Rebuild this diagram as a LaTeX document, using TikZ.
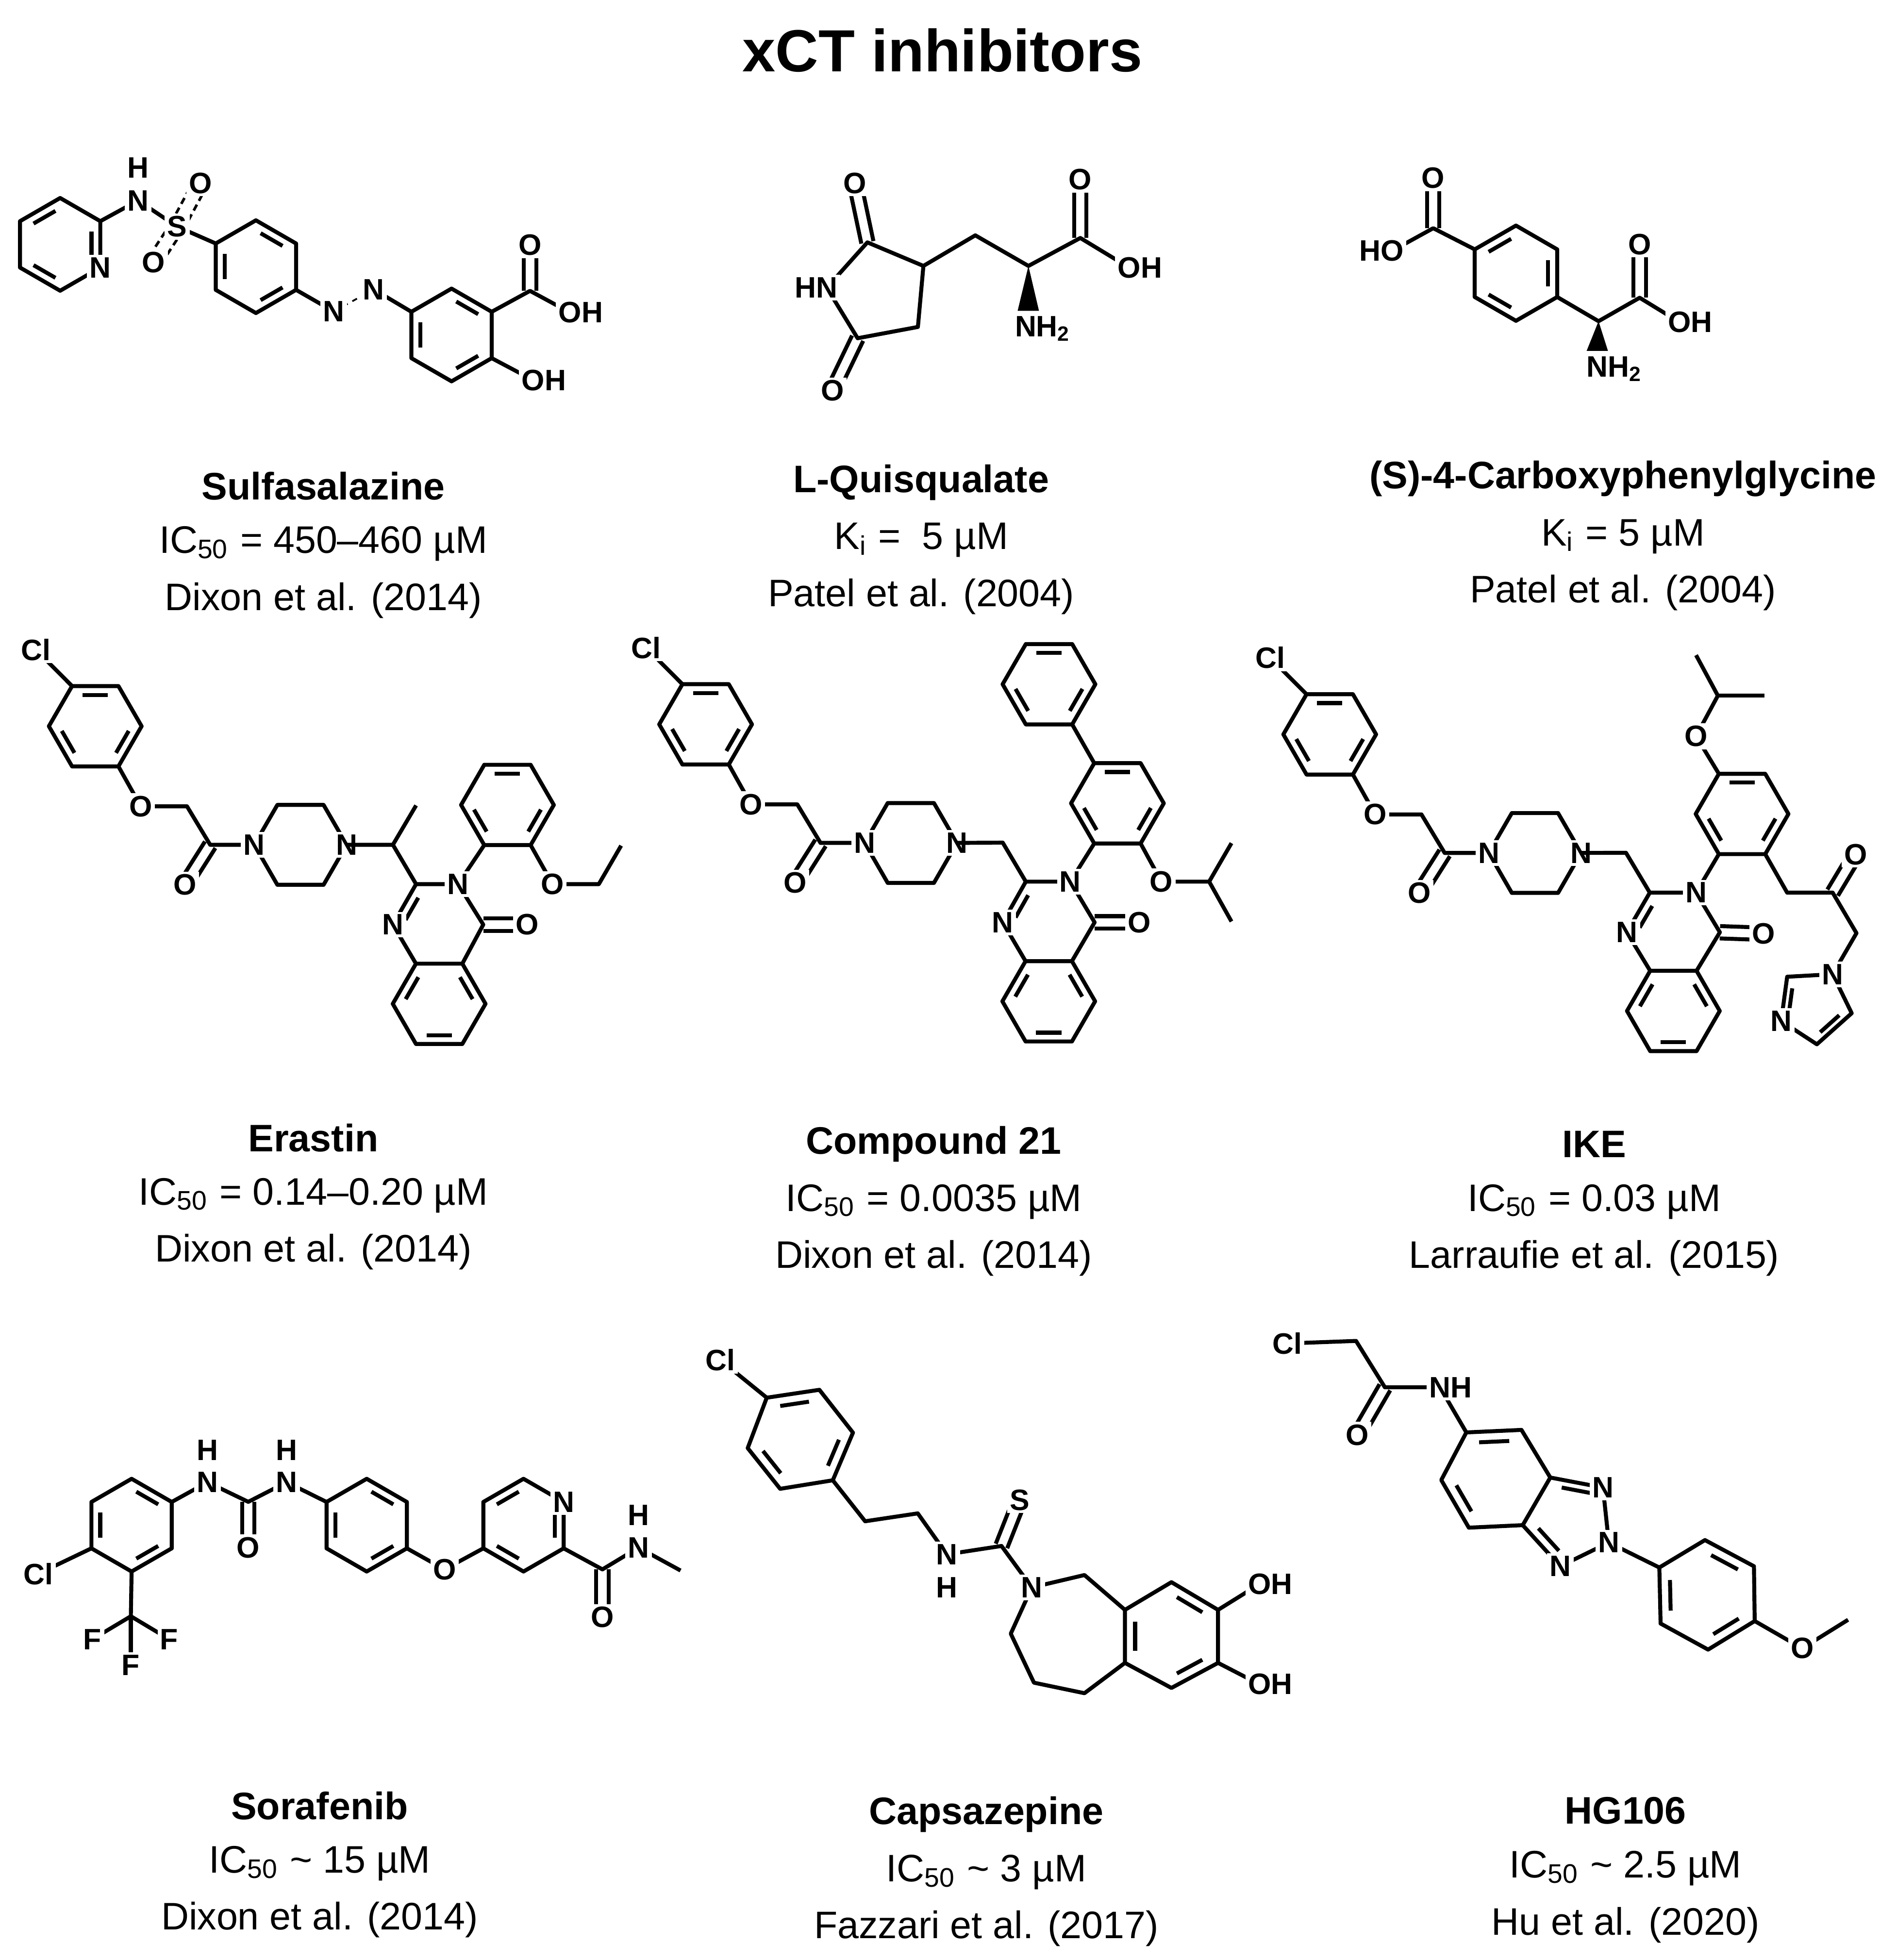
\documentclass[tikz,border=0pt]{standalone}
\usepackage{fontspec}
\setmainfont{Liberation Sans}
\usetikzlibrary{calc}
\newcommand\atomfont{\fontsize{6.7}{7}\selectfont\bfseries}
\newcommand\inb[3]{\draw[bond] ($($(#3)!0.78!(#1)$)!0.15!($(#3)!0.78!(#2)$)$) -- ($($(#3)!0.78!(#1)$)!0.85!($(#3)!0.78!(#2)$)$);}
\newcommand\defring[5]{\coordinate (#1) at (#2,#3);
 \foreach \k in {0,...,5}{\coordinate (#1\k) at ({#2+#5*cos(#4+60*\k)},{#3+#5*sin(#4+60*\k)});}}
\newcommand\ringdraw[2]{\draw[bond] (#10)--(#11)--(#12)--(#13)--(#14)--(#15)--cycle;
 \foreach \k in {0,2,4}{\pgfmathtruncatemacro\ia{mod(\k+#2,6)}\pgfmathtruncatemacro\ib{mod(\k+#2+1,6)}\inb{#1\ia}{#1\ib}{#1}}}
\newcommand\dbond[2]{\draw[bond] ($(#1)!1.4pt!90:(#2)$)--($(#2)!1.4pt!-90:(#1)$); \draw[bond] ($(#1)!1.4pt!-90:(#2)$)--($(#2)!1.4pt!90:(#1)$);}
\newcommand\capt[6]{%
 \node[capf,font=\fontsize{8.7}{10}\selectfont\bfseries] (#6a) at (#1,#2) {#3};
 \node[capf] (#6b) at (#1,#2+46) {#4};
 \node[capf] (#6c) at (#1,#2+91) {#5};}
\newcommand\cppp[1]{%
 \defring{#1r}{76}{579.5}{0}{37}\ringdraw{#1r}{0}
 \coordinate (#1Cl) at (28.5,518.4); \coordinate (#1O) at (112.3,643.4); \coordinate (#1CH2) at (149.2,643.4);
 \coordinate (#1C) at (167.7,674.1); \coordinate (#1Ox) at (147.5,706);
 \coordinate (#1N1) at (202.9,674.1); \coordinate (#1p1) at (221.3,642.3); \coordinate (#1p2) at (258.2,642.3);
 \coordinate (#1N2) at (276.6,674.1); \coordinate (#1p3) at (258.2,706); \coordinate (#1p4) at (221.3,706);
 \draw[bond] (#1r4)--(#1Cl); \draw[bond] (#1r1)--(#1O)--(#1CH2)--(#1C)--(#1N1);
 \draw[bond] (#1N1)--(#1p1)--(#1p2)--(#1N2)--(#1p3)--(#1p4)--cycle;
 \dbond{#1C}{#1Ox}
 \node[atom] at (#1Cl) {Cl}; \node[atom] at (#1O) {O}; \node[atom] at (#1Ox) {O};
 \node[atom] at (#1N1) {N}; \node[atom] at (#1N2) {N};}
\tikzset{bond/.style={line width=0.9pt,line join=round},
 atom/.style={font=\atomfont,fill=white,inner sep=0.6pt},
 capf/.style={font=\fontsize{8.7}{10}\selectfont,inner sep=0pt}}
\begin{document}
\begin{tikzpicture}[x=0.01cm,y=-0.01cm]
\useasboundingbox (0,0) rectangle (1500,1564);
\node[font=\fontsize{13.5}{15}\selectfont\bfseries] (title) at (752,40) {xCT inhibitors};
%% Sulfasalazine
\defring{py}{48}{195}{90}{37}\ringdraw{py}{0}
\coordinate (sN) at (110.2,160); \coordinate (sH) at (110.2,134); \coordinate (sS) at (141.3,180.8);
\coordinate (sO1) at (159.9,146.2); \coordinate (sO2) at (122.6,209.3);
\defring{sa}{204.2}{212.8}{90}{37}\ringdraw{sa}{1}
\coordinate (sN1) at (266.4,248.6); \coordinate (sN2) at (298.1,230.9);
\defring{sb}{360.3}{267.3}{90}{37}\ringdraw{sb}{1}
\coordinate (sC) at (422.9,232.1); \coordinate (sO3) at (422.9,195.5); \coordinate (sO4) at (454.9,249.4); \coordinate (sO5) at (425.4,303.3);
\draw[bond] (py4)--(sN)--(sS)--(sa2);
\draw[line width=0.6pt,dash pattern=on 1.5pt off 1pt] ($(sS)!1.6pt!90:(sO1)$)--($(sO1)!1.6pt!-90:(sS)$) ($(sS)!1.6pt!-90:(sO1)$)--($(sO1)!1.6pt!90:(sS)$);
\draw[line width=0.6pt,dash pattern=on 1.5pt off 1pt] ($(sS)!1.6pt!90:(sO2)$)--($(sO2)!1.6pt!-90:(sS)$) ($(sS)!1.6pt!-90:(sO2)$)--($(sO2)!1.6pt!90:(sS)$);
\draw[bond] (sa5)--(sN1); \draw[line width=0.4pt,dash pattern=on 1.2pt off 1.2pt] (sN1)--(sN2); \draw[bond] (sN2)--(sb2);
\draw[bond] (sb4)--(sC)--(sO4); \dbond{sC}{sO3} \draw[bond] (sb5)--(sO5);
\node[atom] at (py5) {N}; \node[atom] at (sN) {N}; \node[atom] at (sH) {H}; \node[atom] at (sS) {S};
\node[atom] at (sO1) {O}; \node[atom] at (sO2) {O}; \node[atom] at (sN1) {N}; \node[atom] at (sN2) {N};
\node[atom] at (sO3) {O}; \node[atom] at (sO4) {O\rlap{H}}; \node[atom] at (sO5) {O\rlap{H}};
\capt{258}{388}{Sulfasalazine}{IC\textsubscript{50} = 450–460 µM}{Dixon et al. (2014)}{c1}
%% L-Quisqualate
\coordinate (qN) at (659.7,229.6); \coordinate (qC2) at (692.1,193.4); \coordinate (qC3) at (736.8,212.2);
\coordinate (qC4) at (732.4,260.9); \coordinate (qC5) at (684.3,269.9); \coordinate (qO1) at (682.1,146.1); \coordinate (qO2) at (664.2,311.6);
\coordinate (qCH2) at (778.2,187.8); \coordinate (qCa) at (820.6,212.2); \coordinate (qCc) at (862,189.9);
\coordinate (qO3) at (862,143.3); \coordinate (qO4) at (901.1,213.6); \coordinate (qNH2) at (818.4,262.3);
\draw[bond] (qN)--(qC2)--(qC3)--(qC4)--(qC5)--cycle; \dbond{qC2}{qO1} \dbond{qC5}{qO2}
\draw[bond] (qC3)--(qCH2)--(qCa)--(qCc)--(qO4); \dbond{qCc}{qO3}
\fill (qCa)--(812,248)--(829,248)--cycle;
\node[atom] at (qN) {\llap{H}N}; \node[atom] at (qO1) {O}; \node[atom] at (qO2) {O}; \node[atom] at (qO3) {O};
\node[atom] at (qO4) {O\rlap{H}}; \node[atom] at (qNH2) {N\rlap{H\textsubscript{2}}};
\capt{735}{385}{L-Quisqualate}{K\textsubscript{i} =\ \ 5 µM}{Patel et al. (2004)}{c2}
%% CPG
\coordinate (cC1) at (1143.6,182.1); \coordinate (cO1) at (1143.6,142); \coordinate (cO2) at (1110.9,200.1);
\defring{cr}{1209.6}{218}{90}{38}\ringdraw{cr}{0}
\coordinate (cCa) at (1275.5,256.3); \coordinate (cCc) at (1308.3,237.6); \coordinate (cO3) at (1308.3,195);
\coordinate (cO4) at (1340,257); \coordinate (cNH2) at (1274.5,294.4);
\draw[bond] (cO2)--(cC1)--(cr2); \dbond{cC1}{cO1}
\draw[bond] (cr5)--(cCa)--(cCc)--(cO4); \dbond{cCc}{cO3}
\fill (cCa)--(1266,280)--(1283,280)--cycle;
\node[atom] at (cO1) {O}; \node[atom] at (cO2) {\llap{H}O}; \node[atom] at (cO3) {O};
\node[atom] at (cO4) {O\rlap{H}}; \node[atom] at (cNH2) {N\rlap{H\textsubscript{2}}};
\capt{1295}{382}{(S)-4-Carboxyphenylglycine}{K\textsubscript{i} = 5 µM}{Patel et al. (2004)}{c3}
%% Erastin
\cppp{e}
\coordinate (eCH) at (313.5,674.1); \coordinate (eMe) at (332,642.7);
\coordinate (eC2) at (332,705.5); \coordinate (eN3) at (365.5,705.5); \coordinate (eC4) at (385.6,737.8);
\coordinate (eN1) at (313.5,737.8); \coordinate (eO) at (420.8,737.8); \coordinate (eq) at (349.7,737.7);
\defring{eb}{350.4}{801}{0}{37}\ringdraw{eb}{1}
\defring{ea}{404.9}{642.3}{0}{37}\ringdraw{ea}{0}
\coordinate (eOe) at (440.9,705.5); \coordinate (eE1) at (477.8,705.5); \coordinate (eE2) at (495.6,674.8);
\draw[bond] (eN2)--(eCH)--(eMe); \draw[bond] (eCH)--(eC2);
\draw[bond] (eC2)--(eN3)--(eC4)--(eb5); \draw[bond] (eb4)--(eN1)--(eC2);
\inb{eC2}{eN1}{eq} \dbond{eC4}{eO}
\draw[bond] (eN3)--(ea2); \draw[bond] (ea1)--(eOe)--(eE1)--(eE2);
\node[atom] at (eN3) {N}; \node[atom] at (eN1) {N}; \node[atom] at (eO) {O}; \node[atom] at (eOe) {O};
\capt{250}{908}{Erastin}{IC\textsubscript{50} = 0.14–0.20 µM}{Dixon et al. (2014)}{c4}
%% Compound 21
\begin{scope}[shift={(487,-1.5)}]\cppp{k}\end{scope}
\coordinate (kCH2) at (800.1,672.4);
\coordinate (kC2) at (818.5,703.5); \coordinate (kN3) at (854,703.5); \coordinate (kC4) at (873.4,736);
\coordinate (kN1) at (800.1,736); \coordinate (kO) at (908.9,736); \coordinate (kq) at (836.8,735.5);
\defring{kb}{836.8}{799}{0}{37}\ringdraw{kb}{1}
\defring{ka}{891.6}{641}{0}{37}\ringdraw{ka}{0}
\defring{kp}{837}{546}{0}{37}\ringdraw{kp}{0}
\coordinate (kOi) at (926.7,703.5); \coordinate (kCH) at (964.8,703.5); \coordinate (kM1) at (982.6,672.8); \coordinate (kM2) at (982.6,735.3);
\draw[bond] (kN2)--(kCH2)--(kC2)--(kN3)--(kC4)--(kb5); \draw[bond] (kb4)--(kN1)--(kC2);
\inb{kC2}{kN1}{kq} \dbond{kC4}{kO}
\draw[bond] (kN3)--(ka2); \draw[bond] (ka4)--(kp1); \draw[bond] (ka1)--(kOi)--(kCH)--(kM1); \draw[bond] (kCH)--(kM2);
\node[atom] at (kN3) {N}; \node[atom] at (kN1) {N}; \node[atom] at (kO) {O}; \node[atom] at (kOi) {O};
\capt{745}{913}{Compound 21}{IC\textsubscript{50} = 0.0035 µM}{Dixon et al. (2014)}{c5}
%% IKE
\begin{scope}[shift={(985,6.5)}]\cppp{i}\end{scope}
\coordinate (iCH2) at (1297.4,680.5);
\coordinate (iC2) at (1316.4,712.3); \coordinate (iN3) at (1353.3,712.3); \coordinate (iC4) at (1372.3,743.9);
\coordinate (iN1) at (1298,743.9); \coordinate (iO) at (1407,745.1); \coordinate (iq) at (1335,743.8);
\defring{ib}{1335.2}{806.7}{0}{37}\ringdraw{ib}{1}
\defring{ia}{1390}{649.5}{0}{37}\ringdraw{ia}{0}
\coordinate (iOi) at (1353.3,587.4); \coordinate (iCH) at (1370.7,555.1); \coordinate (iM1) at (1353.3,522.8); \coordinate (iM2) at (1408,555.1);
\coordinate (iK1) at (1426,712.3); \coordinate (iKC) at (1462.3,712.3); \coordinate (iKO) at (1480.6,681.8);
\coordinate (iK2) at (1481.3,744.6); \coordinate (imN1) at (1462.3,777.4); \coordinate (imC2) at (1426,779.4);
\coordinate (imN3) at (1421.2,814.7); \coordinate (imC4) at (1449.7,833.3); \coordinate (imC5) at (1477.5,808.5); \coordinate (imq) at (1447,802.7);
\draw[bond] (iN2)--(iCH2)--(iC2)--(iN3)--(iC4)--(ib5); \draw[bond] (ib4)--(iN1)--(iC2);
\inb{iC2}{iN1}{iq} \dbond{iC4}{iO}
\draw[bond] (iN3)--(ia2); \draw[bond] (ia4)--(iOi)--(iCH)--(iM1); \draw[bond] (iCH)--(iM2);
\draw[bond] (ia1)--(iK1)--(iKC)--(iK2)--(imN1); \dbond{iKC}{iKO}
\draw[bond] (imN1)--(imC5)--(imC4)--(imN3)--(imC2)--cycle; \inb{imC5}{imC4}{imq} \inb{imN3}{imC2}{imq}
\node[atom] at (iN3) {N}; \node[atom] at (iN1) {N}; \node[atom] at (iO) {O}; \node[atom] at (iOi) {O};
\node[atom] at (iKO) {O}; \node[atom] at (imN1) {N}; \node[atom] at (imN3) {N};
\capt{1272}{913}{IKE}{IC\textsubscript{50} = 0.03 µM}{Larraufie et al. (2015)}{c6}
%% Sorafenib
\defring{sr}{105}{1217}{90}{37}\ringdraw{sr}{1}
\coordinate (fN1) at (165.6,1182.7); \coordinate (fH1) at (165.6,1157); \coordinate (fC) at (198.1,1198.4); \coordinate (fO) at (198.1,1234.9);
\coordinate (fN2) at (228.7,1182.7); \coordinate (fH2) at (228.7,1157);
\defring{sm}{292.6}{1217}{90}{37}\ringdraw{sm}{1}
\coordinate (fO2) at (354.7,1252.3);
\defring{sp}{417.7}{1217}{90}{37}\ringdraw{sp}{0}
\coordinate (fC2) at (480.7,1252.3); \coordinate (fO3) at (480.7,1290.5); \coordinate (fN3) at (509.5,1234.9); \coordinate (fH3) at (509.5,1209); \coordinate (fMe) at (543,1253.2);
\coordinate (fCl) at (30.6,1255.8); \coordinate (fCF) at (104.4,1289.7); \coordinate (fF1) at (73.8,1308); \coordinate (fF2) at (135,1308); \coordinate (fF3) at (104.4,1328.8);
\draw[bond] (sr4)--(fN1)--(fC)--(fN2)--(sm2); \dbond{fC}{fO}
\draw[bond] (sm5)--(fO2)--(sp1); \draw[bond] (sp5)--(fC2)--(fN3)--(fMe); \dbond{fC2}{fO3}
\draw[bond] (sr1)--(fCl); \draw[bond] (sr0)--(fCF)--(fF1); \draw[bond] (fCF)--(fF2); \draw[bond] (fCF)--(fF3);
\node[atom] at (fN1) {N}; \node[atom] at (fH1) {H}; \node[atom] at (fO) {O}; \node[atom] at (fN2) {N}; \node[atom] at (fH2) {H};
\node[atom] at (fO2) {O}; \node[atom] at (sp4) {N}; \node[atom] at (fO3) {O}; \node[atom] at (fN3) {N}; \node[atom] at (fH3) {H};
\node[atom] at (fCl) {Cl}; \node[atom] at (fF1) {F}; \node[atom] at (fF2) {F}; \node[atom] at (fF3) {F};
\capt{255}{1441}{Sorafenib}{IC\textsubscript{50} \textasciitilde{} 15 µM}{Dixon et al. (2014)}{c7}
%% Capsazepine
\coordinate (pr) at (638.3,1148.7);
\coordinate (pr0) at (680.6,1143.2); \coordinate (pr1) at (664.5,1181.2); \coordinate (pr2) at (622.5,1188);
\coordinate (pr3) at (596.6,1155.5); \coordinate (pr4) at (611.8,1115.3); \coordinate (pr5) at (653.8,1109);
\ringdraw{pr}{0}
\coordinate (pCl) at (574.7,1085.2); \coordinate (pA) at (690.3,1213.9); \coordinate (pB) at (732.3,1207.6);
\coordinate (pN) at (755.5,1240.3); \coordinate (pH) at (755.5,1266.7); \coordinate (pC) at (799.1,1233.6); \coordinate (pS) at (813.6,1197);
\coordinate (pN2) at (823.3,1266.7); \coordinate (pC1) at (865.3,1256.8); \coordinate (pC3) at (806.5,1303.6); \coordinate (pC4) at (825,1342.7); \coordinate (pC5) at (865.3,1351.1);
\coordinate (z) at (934.7,1305);
\coordinate (z0) at (934.7,1262.5); \coordinate (z1) at (971.9,1284.6); \coordinate (z2) at (971.9,1326.9);
\coordinate (z3) at (934.7,1346.9); \coordinate (z4) at (897.6,1326.9); \coordinate (z5) at (897.6,1284.6);
\ringdraw{z}{0}
\coordinate (pO1) at (1005,1264); \coordinate (pO2) at (1005,1344);
\draw[bond] (pr4)--(pCl); \draw[bond] (pr1)--(pA)--(pB)--(pN)--(pC)--(pN2)--(pC1)--(z5);
\dbond{pC}{pS} \draw[bond] (pN2)--(pC3)--(pC4)--(pC5)--(z4);
\draw[bond] (z1)--(pO1); \draw[bond] (z2)--(pO2);
\node[atom] at (pCl) {Cl}; \node[atom] at (pN) {N}; \node[atom] at (pH) {H}; \node[atom] at (pS) {S}; \node[atom] at (pN2) {N};
\node[atom] at (pO1) {O\rlap{H}}; \node[atom] at (pO2) {O\rlap{H}};
\capt{787}{1448}{Capsazepine}{IC\textsubscript{50} \textasciitilde{} 3 µM}{Fazzari et al. (2017)}{c8}
%% HG106
\coordinate (hCl) at (1027,1072); \coordinate (hCH2) at (1082,1070); \coordinate (hC) at (1105,1107);
\coordinate (hO) at (1083,1145); \coordinate (hN) at (1149,1107);
\coordinate (hb) at (1193,1180);
\coordinate (hb0) at (1170,1143); \coordinate (hb1) at (1214,1141); \coordinate (hb2) at (1237,1179);
\coordinate (hb3) at (1215,1217); \coordinate (hb4) at (1172,1219); \coordinate (hb5) at (1150,1181);
\draw[bond] (hb0)--(hb1)--(hb2)--(hb3)--(hb4)--(hb5)--cycle; \inb{hb0}{hb1}{hb} \inb{hb4}{hb5}{hb}
\coordinate (hN1) at (1279,1187); \coordinate (hN2) at (1283.7,1230.9); \coordinate (hN3) at (1244.9,1249.8); \coordinate (htq) at (1256,1211);
\coordinate (ha) at (1362,1272.5);
\coordinate (ha0) at (1360.4,1228.9); \coordinate (ha1) at (1399.5,1249.8); \coordinate (ha2) at (1400.1,1293.5);
\coordinate (ha3) at (1362.9,1316.3); \coordinate (ha4) at (1325,1295.5); \coordinate (ha5) at (1324,1250.8);
\ringdraw{ha}{0}
\coordinate (hOm) at (1438,1315.3); \coordinate (hMe) at (1474.6,1292.5);
\draw[bond] (hCl)--(hCH2)--(hC)--(hN)--(hb0); \dbond{hC}{hO}
\draw[bond] (hb2)--(hN1)--(hN2)--(hN3)--(hb3); \inb{hb2}{hN1}{htq} \inb{hN3}{hb3}{htq}
\draw[bond] (hN2)--(ha5); \draw[bond] (ha2)--(hOm)--(hMe);
\node[atom] at (hCl) {Cl}; \node[atom] at (hO) {O}; \node[atom] at (hN) {N\rlap{H}};
\node[atom] at (hN1) {N}; \node[atom] at (hN2) {N}; \node[atom] at (hN3) {N}; \node[atom] at (hOm) {O};
\capt{1297}{1445}{HG106}{IC\textsubscript{50} \textasciitilde{} 2.5 µM}{Hu et al. (2020)}{c9}
\end{tikzpicture}
\end{document}
